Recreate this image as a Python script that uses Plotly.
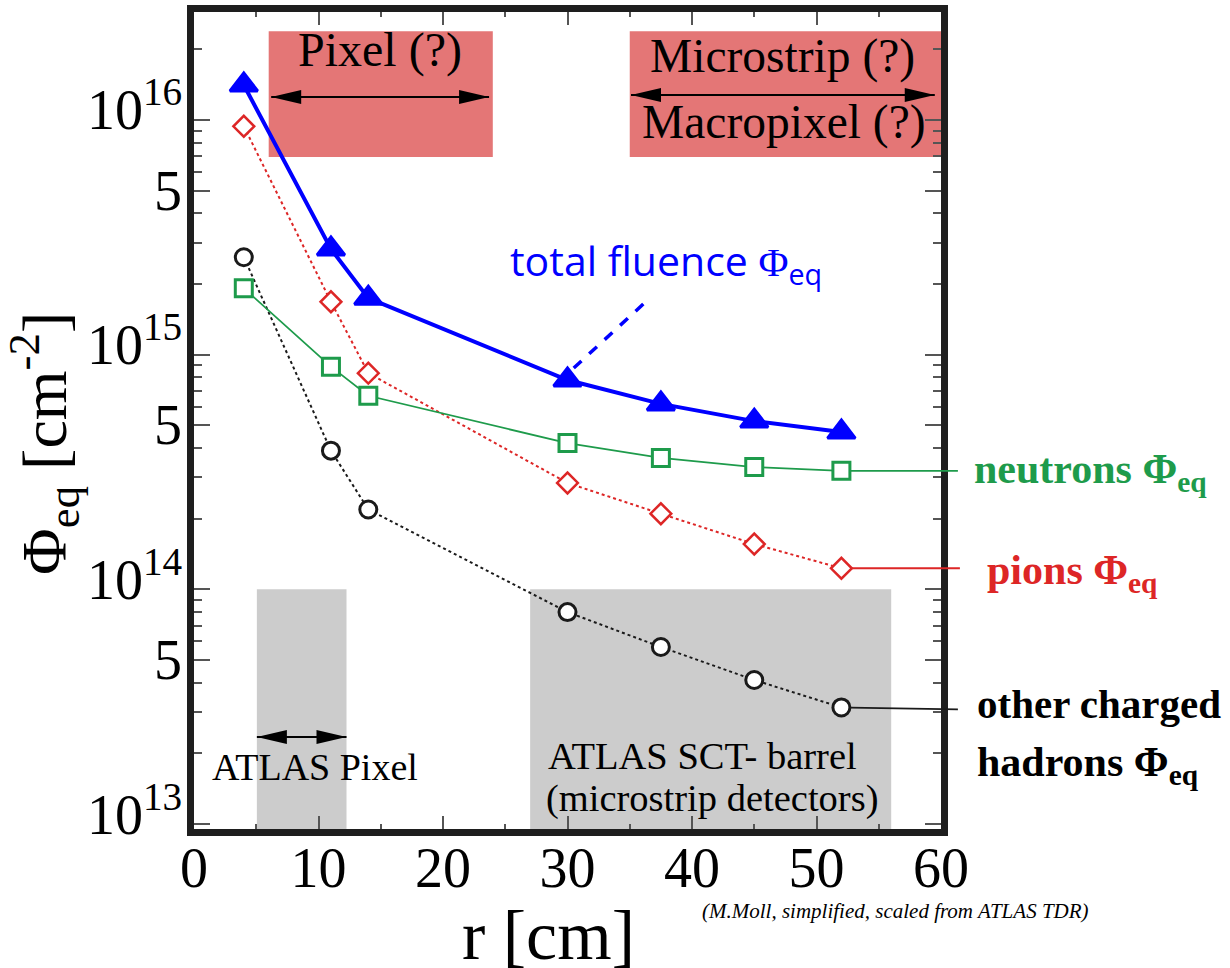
import numpy as np
import plotly.graph_objects as go

# ---------------- data ----------------
r_cm = [4, 11, 14, 30, 37.5, 45, 52]
total_fluence = [1.41e16, 2.82e15, 1.74e15, 7.8e14, 6.17e14, 5.21e14, 4.68e14]
pions = [9.4e15, 1.68e15, 8.34e14, 2.84e14, 2.10e14, 1.56e14, 1.23e14]
neutrons = [1.92e15, 8.89e14, 6.68e14, 4.2e14, 3.63e14, 3.32e14, 3.2e14]
other_hadrons = [2.60e15, 3.9e14, 2.19e14, 8.0e13, 5.68e13, 4.11e13, 3.14e13]

x_tickvals = [0, 10, 20, 30, 40, 50, 60]
x_ticktext = ["0", "10", "20", "30", "40", "50", "60"]
x_minor = [5, 15, 25, 35, 45, 55]
y_tickvals = [1e13, 5e13, 1e14, 5e14, 1e15, 5e15, 1e16]
y_ticktext = ["10<sup>13</sup>", "5", "10<sup>14</sup>", "5",
              "10<sup>15</sup>", "5", "10<sup>16</sup>"]
y_minor = [m * 10.0 ** d for d in (13, 14, 15, 16) for m in (2, 3, 4, 6, 7, 8, 9)]

atlas_pixel_r = [5.05, 12.25]
atlas_sct_r = [27, 56]
atlas_top = 1e14
pixel_prop_r = [6, 24]
strip_prop_r = [35, 60]
prop_band = [6.95e15, 2.39e16]

# ---------------- layout geometry ----------------
W, H = 1230, 968
L, R, T, B = 194, 941, 12, 829
def px(x):
    return (x - L) / (R - L)
def py(y):
    return (B - y) / (B - T)

SERIF = "Liberation Serif"
BLUE = "#0000FF"
RED = "#DD2626"
GREEN = "#1E9B4B"
BLACK = "#1a1a1a"
PINK = "#E47676"
GRAY = "#CCCCCC"

fig = go.Figure()

fig.add_trace(go.Scatter(x=r_cm, y=other_hadrons, mode="lines+markers",
                         line=dict(color=BLACK, width=2, dash="dot"),
                         marker=dict(symbol="circle", size=17, color="white",
                                     line=dict(color=BLACK, width=3))))
fig.add_trace(go.Scatter(x=r_cm, y=pions, mode="lines+markers",
                         line=dict(color=RED, width=2, dash="dot"),
                         marker=dict(symbol="diamond", size=16, color="white",
                                     line=dict(color=RED, width=2.5))))
fig.add_trace(go.Scatter(x=r_cm, y=neutrons, mode="lines+markers",
                         line=dict(color=GREEN, width=1.8),
                         marker=dict(symbol="square", size=17, color="white",
                                     line=dict(color=GREEN, width=3))))
fig.add_trace(go.Scatter(x=r_cm, y=total_fluence, mode="lines+markers",
                         line=dict(color=BLUE, width=4),
                         marker=dict(symbol="triangle-up", size=24, color=BLUE,
                                     line=dict(color=BLUE, width=3))))

shapes = []
for (a, b) in (atlas_pixel_r, atlas_sct_r):
    shapes.append(dict(type="rect", xref="x", yref="y", x0=a, x1=b, y0=1e12, y1=atlas_top,
                       fillcolor=GRAY, line=dict(width=0), layer="below"))
for (a, b) in (pixel_prop_r, strip_prop_r):
    shapes.append(dict(type="rect", xref="x", yref="y", x0=a, x1=b, y0=prop_band[0], y1=prop_band[1],
                       fillcolor=PINK, line=dict(width=0), layer="below"))

def double_arrow(xa, xb, yv, width=2):
    out = [dict(type="line", xref="x", yref="y", x0=xa, x1=xb, y0=yv, y1=yv,
                line=dict(color="black", width=width))]
    for xt, sgn in ((xa, 1), (xb, -1)):
        out.append(dict(type="path", xref="x", yref="y", xsizemode="pixel", ysizemode="pixel",
                        xanchor=xt, yanchor=yv,
                        path=f"M0,0 L{30*sgn},7 L{30*sgn},-7 Z",
                        fillcolor="black", line=dict(width=0)))
    return out

shapes += double_arrow(6.2, 23.7, 1.254e16)
shapes += double_arrow(35.1, 59.5, 1.276e16)
shapes += double_arrow(5.05, 12.25, 2.35e13)
shapes.append(dict(type="line", xref="x", yref="y", x0=30.5, y0=8.77e14, x1=36.6, y1=1.74e15,
                   line=dict(color=BLUE, width=3.5, dash="dash")))

ann = []
def text(t, x, y, size, color="black", family=SERIF, xanchor="center", yanchor="middle", angle=0):
    ann.append(dict(text=t, xref="paper", yref="paper", x=px(x), y=py(y), showarrow=False,
                    xanchor=xanchor, yanchor=yanchor, textangle=angle,
                    font=dict(family=family, size=size, color=color)))

text("Pixel (?)", 380, 50, 48)
text("Microstrip (?)", 782, 56, 47.5)
text("Macropixel (?)", 784, 122, 47.5)
text("total fluence <span style='font-family:Liberation Serif'>Φ</span><sub>eq</sub>",
     508, 262, 41, BLUE, family="Open Sans", xanchor="left")
text("<b>neutrons Φ<sub>eq</sub></b>", 972, 472, 42, GREEN, xanchor="left")
text("<b>pions Φ<sub>eq</sub></b>", 985, 573, 42, RED, xanchor="left")
text("<b>other charged</b>", 975, 704, 41, "black", xanchor="left")
text("<b>hadrons Φ<sub>eq</sub></b>", 975, 765, 42, "black", xanchor="left")
text("ATLAS Pixel", 210, 767, 38, xanchor="left")
text("ATLAS SCT- barrel", 546, 756, 38.5, xanchor="left")
text("(microstrip detectors)", 544, 798, 38.5, xanchor="left")
text("<i>(M.Moll, simplified, scaled from ATLAS TDR)</i>", 895, 911, 21)
text("r [cm]", 548, 935, 70)
text("Φ<sub>eq</sub> [cm<sup>-2</sup>]", 44, 444, 64, angle=-90)

# y tick labels placed on the log axis
for v, t in zip(y_tickvals, y_ticktext):
    ann.append(dict(text=t, xref="paper", yref="y", x=px(184), y=np.log10(v), showarrow=False,
                    xanchor="right", yanchor="middle", yshift=14 if "sup" in t else 0,
                    font=dict(family=SERIF, size=56, color="black")))

# leader lines from last points to labels
for vals, col, dx, dy in ((neutrons, GREEN, 118, 0), (pions, RED, 120, 0), (other_hadrons, BLACK, 118, 2)):
    ann.append(dict(text="", xref="x", yref="y", x=r_cm[-1], y=np.log10(vals[-1]),
                    ax=dx, ay=dy, showarrow=True, arrowhead=0, arrowwidth=1.8,
                    arrowcolor=col, standoff=9))

axis_common = dict(showline=True, linewidth=7, linecolor="#1e1e1e", mirror="allticks",
                   ticks="inside", tickwidth=1.5, tickcolor="#555555", showgrid=False,
                   zeroline=False, automargin=False,
                   tickfont=dict(family=SERIF, size=56, color="black"))

fig.update_layout(
    width=W, height=H, autosize=False,
    margin=dict(l=L, r=W - R, t=T, b=H - B, pad=0, autoexpand=False),
    paper_bgcolor="white", plot_bgcolor="white",
    showlegend=False,
    xaxis=dict(range=[0, 60], tickmode="array", tickvals=x_tickvals, ticktext=x_ticktext,
               ticklen=13, ticklabelstandoff=-16,
               minor=dict(tickmode="array", tickvals=x_minor, ticklen=5, tickwidth=1.5,
                          tickcolor="#555555", ticks="inside", showgrid=False),
               **axis_common),
    yaxis=dict(type="log", range=[12.979, 16.460], tickmode="array", tickvals=y_tickvals,
               ticktext=y_ticktext, ticklen=16, showticklabels=False,
               minor=dict(tickmode="array", tickvals=y_minor, ticklen=8, tickwidth=1.5,
                          tickcolor="#555555", ticks="inside", showgrid=False),
               **axis_common),
    shapes=shapes,
    annotations=ann,
)

fig.write_html("out.html", config={"displayModeBar": False},
               post_script="document.body.style.margin='0px';")
